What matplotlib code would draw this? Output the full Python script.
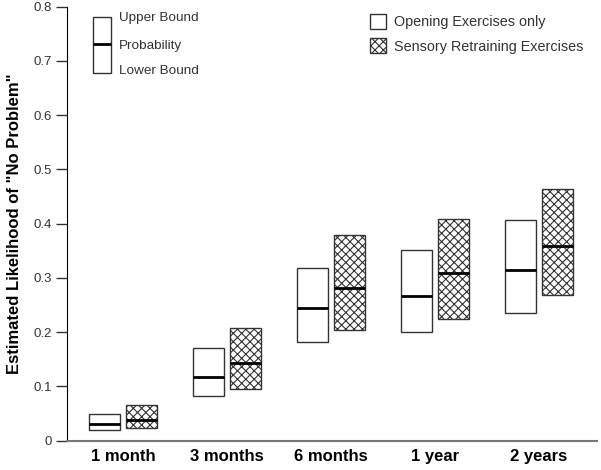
import matplotlib
matplotlib.use("Agg")
import matplotlib.pyplot as plt
from matplotlib.patches import Rectangle
from matplotlib.lines import Line2D
import numpy as np

plt.rcParams['font.family'] = ['Liberation Sans', 'DejaVu Sans']
plt.rcParams['hatch.linewidth'] = 0.8

categories = ["1 month", "3 months", "6 months", "1 year", "2 years"]
open_lower = [0.020, 0.083, 0.182, 0.200, 0.236]
open_prob = [0.031, 0.118, 0.245, 0.267, 0.314]
open_upper = [0.050, 0.170, 0.319, 0.351, 0.406]
sens_lower = [0.024, 0.095, 0.204, 0.224, 0.269]
sens_prob = [0.039, 0.143, 0.281, 0.310, 0.359]
sens_upper = [0.065, 0.207, 0.380, 0.408, 0.464]
series_labels = ["Opening Exercises only", "Sensory Retraining Exercises"]
yticks = [0, 0.1, 0.2, 0.3, 0.4, 0.5, 0.6, 0.7, 0.8]
ytick_labels = ["0", "0.1", "0.2", "0.3", "0.4", "0.5", "0.6", "0.7", "0.8"]

fig = plt.figure(figsize=(6.01, 4.70), dpi=100)
ax = fig.add_axes([67/601, 29.3/470, 530/601, 434/470])

x = np.arange(len(categories))
w = 0.30
off = 0.18
edge = '#333333'
HATCH = 'xxxx'

def draw(xc, lo, pr, up, hatch):
    ax.add_patch(Rectangle((xc - w/2, lo), w, up - lo, facecolor='white',
                           edgecolor=edge, linewidth=1.0, hatch=hatch))
    ax.plot([xc - w/2, xc + w/2], [pr, pr], color='black', linewidth=2.0,
            solid_capstyle='butt')

for i in range(len(categories)):
    draw(x[i] - off, open_lower[i], open_prob[i], open_upper[i], None)
    draw(x[i] + off, sens_lower[i], sens_prob[i], sens_upper[i], HATCH)

ax.set_xlim(-0.54, 4.56)
ax.set_ylim(0, 0.8)
ax.set_yticks(yticks)
ax.set_yticklabels(ytick_labels, fontsize=9.5, color='#333333')
ax.set_xticks(x)
ax.set_xticklabels(categories, fontsize=12, fontweight='bold')
ax.tick_params(axis='x', length=0, pad=6)
ax.tick_params(axis='y', length=8, width=1, color='#333333', pad=3)
for s in ['top', 'right']:
    ax.spines[s].set_visible(False)
ax.spines['left'].set_color('black')
ax.spines['bottom'].set_color('#777777')
ax.spines['bottom'].set_linewidth(1.5)
ax.set_ylabel('Estimated Likelihood of "No Problem"', fontsize=12,
              fontweight='bold', labelpad=8)

# box key (upper left)
tA = ax.transAxes
bx0, bx1 = 26/530, 44/530
by0, by1, bym = (440.7-73.3)/434, (440.7-16.7)/434, (440.7-43.7)/434
ax.add_patch(Rectangle((bx0, by0), bx1-bx0, by1-by0, transform=tA,
                       facecolor='white', edgecolor=edge, linewidth=1.0))
ax.add_line(Line2D([bx0, bx1], [bym, bym], transform=tA, color='black',
                   linewidth=2.0, solid_capstyle='butt'))
tx = 52/530
ax.text(tx, (440.7-18)/434, "Upper Bound", transform=tA, fontsize=9.7,
        color='#333333', va='center', ha='left')
ax.text(tx, (440.7-46)/434, "Probability", transform=tA, fontsize=9.7,
        color='#333333', va='center', ha='left')
ax.text(tx, (440.7-71)/434, "Lower Bound", transform=tA, fontsize=9.7,
        color='#333333', va='center', ha='left')

# series legend (upper right)
handles = [Rectangle((0, 0), 1, 1, facecolor='white', edgecolor=edge, linewidth=1.0),
           Rectangle((0, 0), 1, 1, facecolor='white', edgecolor=edge, linewidth=1.0, hatch=HATCH)]
leg = ax.legend(handles, series_labels, loc='upper left',
                bbox_to_anchor=(303/530, (440.7-14)/434), frameon=False, fontsize=10.4,
                handlelength=1.1, handleheight=1.2, handletextpad=0.55,
                labelspacing=0.62, borderaxespad=0, borderpad=0)
for t in leg.get_texts():
    t.set_color('#333333')

fig.savefig("out.png", dpi=100)
